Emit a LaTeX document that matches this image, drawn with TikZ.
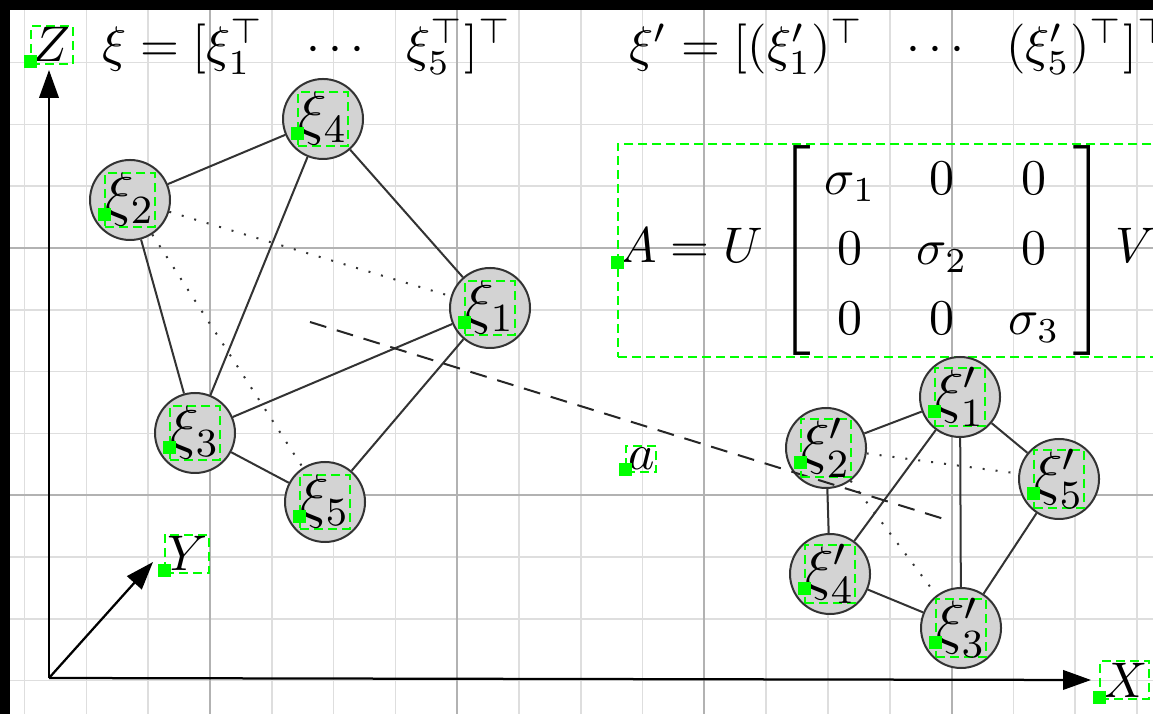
\documentclass[tikz,border=0pt]{standalone}
\usepackage{amsmath}
\usetikzlibrary{arrows.meta}
\definecolor{dbg}{RGB}{0,255,0}
\definecolor{vfill}{RGB}{211,211,211}
\tikzset{
  minorline/.style={draw=black!13, line width=0.3pt},
  majorline/.style={draw=black!30, line width=0.4pt},
  vtx/.style={circle, draw=black!80, line width=0.4pt, fill=vfill, minimum size=16pt, inner sep=0pt},
  lbl/.style={draw=dbg, line width=0.4pt, dash pattern=on 1.8pt off 1pt, inner sep=0.4pt, text=black},
  vlbl/.style={lbl, font=\large, inner sep=0pt},
  anchordot/.style={rectangle, fill=dbg, minimum size=2.6pt, inner sep=0pt},
  edge/.style={draw=black!80, line width=0.4pt},
  dotedge/.style={draw=black!80, line width=0.4pt, dash pattern=on 0.4pt off 2.2pt},
  axisline/.style={draw=black, line width=0.45pt, -{Triangle[length=5.6pt,width=3.9pt]}},
}
\begin{document}
\begin{tikzpicture}[x=0.2pt,y=-0.2pt]
\useasboundingbox (0,0) rectangle (1153,714);
\clip (0,0) rectangle (1153,714);
\fill[white] (0,0) rectangle (1153,714);
% grid
\foreach \k in {0,...,18} \draw[minorline] ({24.6+61.8*\k},0) -- ({24.6+61.8*\k},714);
\foreach \k in {0,...,11} \draw[minorline] (0,{0.8+61.8*\k}) -- (1153,{0.8+61.8*\k});
\foreach \xx in {210,457.2,704.4,951.6} \draw[majorline] (\xx,0) -- (\xx,714);
\foreach \yy in {248,495.2} \draw[majorline] (0,\yy) -- (1153,\yy);
% black borders
\fill[black] (0,0) rectangle (1153,10);
\fill[black] (0,0) rectangle (10,714);

% axes
\coordinate (O) at (49,678);
\coordinate (Ztip) at (49,70);
\coordinate (Ytip) at (153,562);
\coordinate (Xtip) at (1091,680);
\draw[axisline] (O) -- (Ztip);
\draw[axisline] (O) -- (Ytip);
\draw[axisline] (O) -- (Xtip);
\node[lbl, anchor=base west] (Zl) at (30,62) {$Z$};
\node[anchordot] (mZ) at (Zl.base west) {};
\node[lbl, anchor=base west] (Yl) at (164,571) {$Y$};
\node[anchordot] (mY) at (Yl.base west) {};
\node[lbl, anchor=base west] (Xl) at (1099,697) {$X$};
\node[anchordot] (mX) at (Xl.base west) {};

% formulas
\node[anchor=base west, inner sep=0pt] (f1) at (101,62)
  {$\xi = [\xi_1^\top\ \ \cdots\ \ \xi_5^\top]^\top$};
\node[anchor=base west, inner sep=0pt] (f2) at (628,62)
  {$\xi' = [(\xi'_1)^\top\ \ \cdots\ \ (\xi'_5)^\top]^\top$};
\node[lbl, anchor=base west, inner sep=0.3pt] (Am) at (617,263)
  {\setlength{\arraycolsep}{4.1pt}\renewcommand{\arraystretch}{1.17}$A = U\hspace{1.2pt} \left[\;\begin{matrix} \sigma_1 & 0 & 0\\ 0 & \sigma_2 & 0 \\ 0 & 0 & \sigma_3 \end{matrix}\;\right] V^\top$};
\node[anchordot] (mA) at (Am.base west) {};

% left graph
\node[vtx] (x1) at (490,308) {};
\node[vtx] (x2) at (130,200) {};
\node[vtx] (x3) at (195,433) {};
\node[vtx] (x4) at (323,119) {};
\node[vtx] (x5) at (325,502) {};
% right graph
\node[vtx] (y1) at (960,397) {};
\node[vtx] (y2) at (826,448) {};
\node[vtx] (y3) at (961,628) {};
\node[vtx] (y4) at (830,574) {};
\node[vtx] (y5) at (1059,479) {};

% edges
\draw[edge] (x2) -- (x4);
\draw[edge] (x4) -- (x1);
\draw[edge] (x4) -- (x3);
\draw[edge] (x2) -- (x3);
\draw[edge] (x3) -- (x1);
\draw[edge] (x3) -- (x5);
\draw[edge] (x5) -- (x1);
\draw[dotedge] (x2) -- (x1);
\draw[dotedge] (x2) -- (x5);

\draw[edge] (y2) -- (y1);
\draw[edge] (y1) -- (y5);
\draw[edge] (y1) -- (y4);
\draw[edge] (y1) -- (y3);
\draw[edge] (y2) -- (y4);
\draw[edge] (y4) -- (y3);
\draw[edge] (y3) -- (y5);
\draw[dotedge] (y2) -- (y5);
\draw[dotedge] (y2) -- (y3);

% dashed link
\coordinate (cL) at (310,322);
\coordinate (cR) at (944,519);
\draw[black!85, line width=0.4pt, dash pattern=on 3.4pt off 2.2pt] (cL) -- (cR);
\node[lbl, anchor=base west] (al) at (625,470) {$a$};
\node[anchordot] (ma) at (al.base west) {};

% vertex labels
\foreach \n/\t in {x1/{\xi_1}, x2/{\xi_2}, x3/{\xi_3}, x4/{\xi_4}, x5/{\xi_5},
                   y1/{\xi'_1}, y2/{\xi'_2}, y3/{\xi'_3}, y4/{\xi'_4}, y5/{\xi'_5}} {
  \node[vlbl] (t\n) at (\n) {$\t$};
  \node[anchordot] (m\n) at (t\n.base west) {};
}
\end{tikzpicture}
\end{document}
